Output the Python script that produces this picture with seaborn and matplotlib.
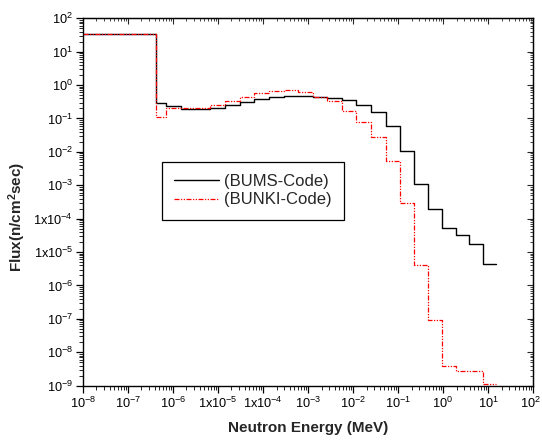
import numpy as np
import pandas as pd
import matplotlib
matplotlib.use('Agg')
import matplotlib.pyplot as plt
import matplotlib.ticker as mticker
import seaborn as sns

# energy group boundaries (MeV)
edges_mev = [1.0e-8, 4.2e-7, 7.1e-7, 1.48e-6, 3.08e-6, 6.6e-6, 1.41e-5, 3.03e-5,
             6.3e-5, 1.36e-4, 2.93e-4, 6.1e-4, 1.29e-3, 2.7e-3, 5.8e-3, 1.19e-2,
             2.56e-2, 5.3e-2, 0.111, 0.227, 0.474, 0.935, 1.91, 3.78, 7.74, 15.4]

# group fluxes (n/cm2 sec)
bums_flux = [33.9, 0.297, 0.242, 0.196, 0.188, 0.206, 0.248, 0.305, 0.376, 0.431,
             0.472, 0.472, 0.44, 0.403, 0.366, 0.262, 0.157, 0.0596, 0.0106,
             1.09e-3, 1.99e-4, 5.3e-5, 3.25e-5, 1.78e-5, 4.3e-6]
bunki_flux = [33.9, 0.109, 0.202, 0.202, 0.206, 0.248, 0.341, 0.45, 0.568, 0.68,
              0.728, 0.608, 0.45, 0.334, 0.168, 0.0769, 0.0285, 5.3e-3, 3.0e-4,
              4.1e-6, 9.0e-8, 4.0e-9, 2.66e-9, 2.81e-9, 1.09e-9]

x_ticks = [1e-8, 1e-7, 1e-6, 1e-5, 1e-4, 1e-3, 1e-2, 1e-1, 1e0, 1e1, 1e2]
x_ticklabels = ['$10^{-8}$', '$10^{-7}$', '$10^{-6}$', '$1x10^{-5}$', '$1x10^{-4}$',
                '$10^{-3}$', '$10^{-2}$', '$10^{-1}$', '$10^{0}$', '$10^{1}$', '$10^{2}$']
y_ticks = [1e2, 1e1, 1e0, 1e-1, 1e-2, 1e-3, 1e-4, 1e-5, 1e-6, 1e-7, 1e-8, 1e-9]
y_ticklabels = ['$10^{2}$', '$10^{1}$', '$10^{0}$', '$10^{-1}$', '$10^{-2}$', '$10^{-3}$',
                '$1x10^{-4}$', '$1x10^{-5}$', '$10^{-6}$', '$10^{-7}$', '$10^{-8}$', '$10^{-9}$']

sns.set_style('ticks')
plt.rcParams['font.family'] = ['Liberation Sans', 'DejaVu Sans']
plt.rcParams['mathtext.fontset'] = 'custom'
plt.rcParams['mathtext.rm'] = 'Liberation Sans'
plt.rcParams['mathtext.it'] = 'Liberation Sans:italic'
plt.rcParams['mathtext.bf'] = 'Liberation Sans:bold'
plt.rcParams['mathtext.default'] = 'regular'

df_bums = pd.DataFrame({'E': edges_mev, 'flux': bums_flux + [bums_flux[-1]]})
df_bunki = pd.DataFrame({'E': edges_mev, 'flux': bunki_flux + [bunki_flux[-1]]})

fig = plt.figure(figsize=(5.42, 4.45), dpi=100)
ax = fig.add_axes([0.153, 0.1333, 0.8304, 0.8256])

sns.lineplot(data=df_bums, x='E', y='flux', drawstyle='steps-post', color='black',
             linewidth=1.0, label='(BUMS-Code)', ax=ax)
sns.lineplot(data=df_bunki, x='E', y='flux', drawstyle='steps-post', color='#ff0000',
             linewidth=0.9, linestyle=(0, (4, 1.2, 1, 1.2, 1, 1.2)), label='(BUNKI-Code)', ax=ax)

ax.set_xscale('log')
ax.set_yscale('log')
ax.set_xlim(1e-8, 1e2)
ax.set_ylim(1e-9, 1e2)

ax.xaxis.set_major_locator(mticker.FixedLocator(x_ticks))
ax.xaxis.set_major_formatter(mticker.FixedFormatter(x_ticklabels))
ax.yaxis.set_major_locator(mticker.FixedLocator(y_ticks))
ax.yaxis.set_major_formatter(mticker.FixedFormatter(y_ticklabels))
ax.xaxis.set_minor_locator(mticker.LogLocator(base=10, subs=np.arange(2, 10), numticks=30))
ax.yaxis.set_minor_locator(mticker.LogLocator(base=10, subs=np.arange(2, 10), numticks=30))
ax.xaxis.set_minor_formatter(mticker.NullFormatter())
ax.yaxis.set_minor_formatter(mticker.NullFormatter())

ax.tick_params(axis='both', which='major', direction='out', length=5, width=0.9,
               labelsize=9.2, colors='black', pad=2)
ax.tick_params(axis='both', which='minor', direction='out', length=3, width=0.7)

# the last x label sits right at the figure edge, nudge it inward a little
ax.get_xticklabels()[-1].set_horizontalalignment('center')
fig.canvas.draw()
lbl = ax.get_xticklabels()[-1]
lbl.set_ha('right')
lbl.set_x(1e2)
import matplotlib.transforms as mtrans
lbl.set_transform(lbl.get_transform() + mtrans.ScaledTranslation(8 / 100, 0, fig.dpi_scale_trans))

# mirrored ticks on top / right, pointing inward
secx = ax.secondary_xaxis('top')
secx.xaxis.set_major_locator(mticker.FixedLocator(x_ticks))
secx.xaxis.set_minor_locator(mticker.LogLocator(base=10, subs=np.arange(2, 10), numticks=30))
secx.xaxis.set_major_formatter(mticker.NullFormatter())
secx.xaxis.set_minor_formatter(mticker.NullFormatter())
secx.tick_params(which='major', direction='in', length=4, width=0.8)
secx.tick_params(which='minor', direction='in', length=2, width=0.6)
secy = ax.secondary_yaxis('right')
secy.yaxis.set_major_locator(mticker.FixedLocator(y_ticks))
secy.yaxis.set_minor_locator(mticker.LogLocator(base=10, subs=np.arange(2, 10), numticks=30))
secy.yaxis.set_major_formatter(mticker.NullFormatter())
secy.yaxis.set_minor_formatter(mticker.NullFormatter())
secy.tick_params(which='major', direction='in', length=4, width=0.8)
secy.tick_params(which='minor', direction='in', length=2, width=0.6)

for s in ax.spines.values():
    s.set_visible(True)
    s.set_color('black')
    s.set_linewidth(1.0)

ax.set_xlabel('Neutron Energy (MeV)', fontsize=11, fontweight='bold')
ax.set_ylabel(r'Flux(n/cm$^{\mathbf{2}}$sec)', fontsize=11, fontweight='bold')
ax.xaxis.set_label_coords(0.5, -0.095)
ax.yaxis.set_label_coords(-0.122, 0.46)

leg = ax.legend(loc='upper left', bbox_to_anchor=(0.175, 0.61), frameon=True,
                fancybox=False, shadow=False, fontsize=12, handlelength=2.7,
                handletextpad=0.3, borderpad=0.75, labelspacing=0.2, borderaxespad=0)
leg.get_frame().set_edgecolor('black')
leg.get_frame().set_linewidth(0.9)
leg.get_frame().set_alpha(1)

fig.savefig('out.png', dpi=100)
